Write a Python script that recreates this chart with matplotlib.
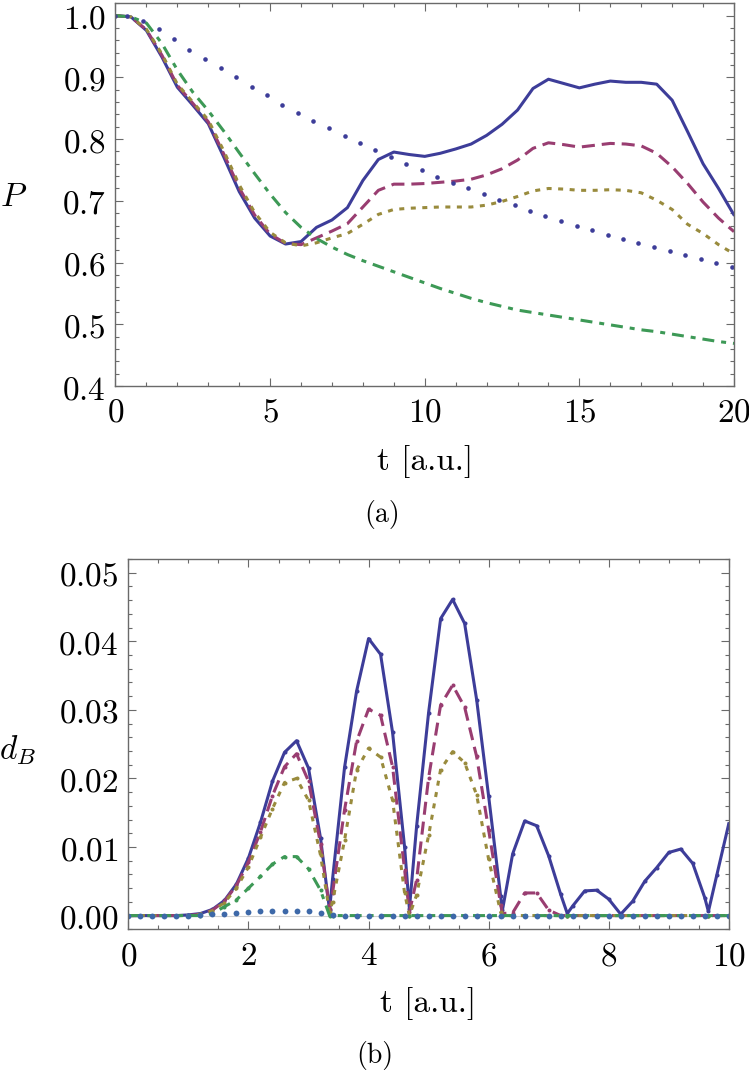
import numpy as np
import matplotlib
matplotlib.use("Agg")
import matplotlib.pyplot as plt
from matplotlib.ticker import MultipleLocator, FormatStrFormatter

plt.rcParams['mathtext.fontset'] = 'cm'
plt.rcParams['lines.scale_dashes'] = False
plt.rcParams['axes.unicode_minus'] = False

# --- colores estilo Mathematica ---
c_blue = "#3D3D99"
c_mag = "#993D71"
c_olive = "#998B3D"
c_green = "#3D9956"
c_steel = "#3D68A8"
frame_col = "#6a6a6a"

# === (a) P(t) ===
t_a = [0, 0.5, 1.0, 1.5, 2.0, 2.5, 3.0, 3.5, 4.0, 4.5, 5.0, 5.5, 6.0, 6.5, 7.0,
       7.5, 8.0, 8.5, 9.0, 9.5, 10.0, 10.5, 11.0, 11.5, 12.0, 12.5, 13.0, 13.5,
       14.0, 14.5, 15.0, 15.5, 16.0, 16.5, 17.0, 17.5, 18.0, 18.5, 19.0, 19.5, 20.0]

P_solid = [1.000, 0.998, 0.976, 0.933, 0.884, 0.855, 0.825, 0.771, 0.715, 0.672,
           0.643, 0.630, 0.634, 0.657, 0.669, 0.689, 0.733, 0.767, 0.779, 0.775,
           0.772, 0.777, 0.784, 0.792, 0.806, 0.824, 0.847, 0.882, 0.897, 0.890,
           0.883, 0.889, 0.894, 0.892, 0.892, 0.889, 0.863, 0.812, 0.760, 0.720, 0.677]

P_dash = [1.000, 0.998, 0.977, 0.936, 0.887, 0.858, 0.828, 0.776, 0.721, 0.677,
          0.646, 0.631, 0.629, 0.640, 0.651, 0.663, 0.690, 0.717, 0.727, 0.727,
          0.728, 0.730, 0.732, 0.735, 0.742, 0.752, 0.766, 0.785, 0.794, 0.791,
          0.787, 0.790, 0.793, 0.792, 0.789, 0.777, 0.755, 0.728, 0.698, 0.672, 0.650]

P_dot = [1.000, 0.998, 0.978, 0.938, 0.889, 0.860, 0.831, 0.781, 0.726, 0.681,
         0.649, 0.632, 0.627, 0.632, 0.640, 0.647, 0.662, 0.678, 0.686, 0.688,
         0.689, 0.690, 0.690, 0.690, 0.693, 0.699, 0.707, 0.716, 0.720, 0.719,
         0.717, 0.717, 0.718, 0.717, 0.713, 0.701, 0.686, 0.662, 0.647, 0.629, 0.614]

P_dashdot = [1.000, 0.998, 0.988, 0.955, 0.912, 0.876, 0.846, 0.813, 0.778, 0.744,
             0.711, 0.681, 0.657, 0.639, 0.625, 0.613, 0.603, 0.594, 0.585, 0.576,
             0.567, 0.558, 0.550, 0.542, 0.535, 0.529, 0.523, 0.519, 0.515, 0.511,
             0.507, 0.503, 0.499, 0.495, 0.491, 0.488, 0.484, 0.480, 0.476, 0.472, 0.469]

# curva punteada (puntos gruesos)
t_pts = [0.0, 0.38, 0.89, 1.40, 1.89, 2.39, 2.90, 3.40, 3.90, 4.40, 4.90, 5.40,
         5.90, 6.40, 6.90, 7.41, 7.91, 8.40, 8.90, 9.40, 9.90, 10.41, 10.91,
         11.40, 11.91, 12.41, 12.91, 13.41, 13.90, 14.41, 14.92, 15.42, 15.91,
         16.42, 16.91, 17.41, 17.92, 18.41, 18.92, 19.42, 19.92]
P_pts = [1.000, 1.000, 0.992, 0.978, 0.962, 0.945, 0.930, 0.915, 0.900, 0.885,
         0.871, 0.856, 0.843, 0.830, 0.818, 0.805, 0.793, 0.782, 0.771, 0.760,
         0.750, 0.739, 0.729, 0.720, 0.711, 0.701, 0.693, 0.684, 0.676, 0.668,
         0.660, 0.653, 0.645, 0.638, 0.631, 0.625, 0.618, 0.612, 0.605, 0.599, 0.593]

# === (b) d_B(t) ===
t_grid = [round(0.2 * i, 1) for i in range(51)]
t_b = sorted(t_grid + [3.35, 4.68, 6.23, 7.31, 9.66])

d_solid = [0, 0, 0, 0, 0, 0.0001, 0.0003, 0.0009, 0.0022, 0.0046,
           0.0084, 0.0136, 0.0196, 0.0238, 0.0255, 0.0215, 0.0113, 0.0008, 0.0053, 0.0216,
           0.0327, 0.0404, 0.0381, 0.0267, 0.0100, 0.0010, 0.0130, 0.0296, 0.0433, 0.0461,
           0.0426, 0.0315, 0.0174, 0.0028, 0.0008, 0.0090, 0.0138, 0.0131, 0.0087, 0.0031,
           0.0003, 0.0014, 0.0036, 0.0037, 0.0024, 0.0002, 0.0021, 0.0050, 0.0070, 0.0092,
           0.0097, 0.0076, 0.0026, 0.0006, 0.0059, 0.0134]

d_dash = [0, 0, 0, 0, 0, 0, 0.0002, 0.0008, 0.0021, 0.0044,
          0.0078, 0.0122, 0.0175, 0.0217, 0.0236, 0.0196, 0.0105, 0.0010, 0.0033, 0.0154,
          0.0254, 0.0301, 0.0292, 0.0217, 0.0067, 0.0005, 0.0052, 0.0201, 0.0307, 0.0336,
          0.0304, 0.0232, 0.0125, 0.0016, 0.0003, 0.0004, 0.0033, 0.0033, 0.0008, 0,
          0, 0, 0, 0, 0, 0, 0, 0, 0, 0,
          0, 0, 0, 0, 0, 0]

d_dot = [0, 0, 0, 0, 0, 0, 0.0002, 0.0007, 0.0019, 0.0040,
         0.0071, 0.0114, 0.0156, 0.0194, 0.0200, 0.0168, 0.0088, 0.0005, 0.0020, 0.0110,
         0.0212, 0.0244, 0.0231, 0.0168, 0.0033, 0, 0.0030, 0.0117, 0.0213, 0.0239,
         0.0223, 0.0176, 0.0082, 0.0005, 0, 0, 0, 0, 0, 0,
         0, 0, 0, 0, 0, 0, 0, 0, 0, 0,
         0, 0, 0, 0, 0, 0]

d_dashdot = [0, 0, 0, 0, 0, 0, 0, 0.0003, 0.0013, 0.0023,
             0.0040, 0.0057, 0.0075, 0.0086, 0.0086, 0.0068, 0.0037, 0, 0, 0,
             0, 0, 0, 0, 0, 0, 0, 0, 0, 0,
             0, 0, 0, 0, 0, 0, 0, 0, 0, 0,
             0, 0, 0, 0, 0, 0, 0, 0, 0, 0,
             0, 0, 0, 0, 0, 0]

d_pts = [0, 0, 0, 0, 0, 0, 0.0001, 0.0002, 0.0003, 0.0004,
         0.0005, 0.0006, 0.00064, 0.00064, 0.00064, 0.0006, 0.00044, 0.0001, 0, 0,
         0, 0, 0, 0, 0, 0, 0, 0, 0, 0,
         0, 0, 0, 0, 0, 0, 0, 0, 0, 0,
         0, 0, 0, 0, 0, 0, 0, 0, 0, 0, 0]

# estilos de linea (en puntos)
dash_long = (0, (9.4, 5.0))
dash_short = (0, (3.6, 4.7))
dash_dot = (0, (8.6, 5.0, 3.6, 5.0))
lw = 2.2

fig = plt.figure(figsize=(7.49, 10.72), dpi=100)
W, H = 749.0, 1072.0


def style_axes(ax):
    for s in ax.spines.values():
        s.set_color(frame_col)
        s.set_linewidth(1.0)
    ax.tick_params(which='both', direction='in', top=True, right=True,
                   color=frame_col, width=0.8, labelsize=24, pad=7)
    ax.tick_params(which='major', length=5.5)
    ax.tick_params(which='minor', length=3.0)


# --- panel (a) ---
ax1 = fig.add_axes([115.5 / W, 1 - 386 / H, (734 - 115.5) / W, (386 - 3.3) / H])
ax1.plot(t_a, P_solid, color=c_blue, lw=lw, solid_capstyle='round')
ax1.plot(t_a, P_dash, color=c_mag, lw=lw, linestyle=dash_long)
ax1.plot(t_a, P_dot, color=c_olive, lw=lw, linestyle=dash_short)
ax1.plot(t_a, P_dashdot, color=c_green, lw=lw, linestyle=dash_dot)
ax1.plot(t_pts, P_pts, linestyle='none', marker='o', ms=3.3, color=c_blue, mec='none')
ax1.set_xlim(0, 20)
ax1.set_ylim(0.4, 1.02)
ax1.xaxis.set_major_locator(MultipleLocator(5))
ax1.xaxis.set_minor_locator(MultipleLocator(1))
ax1.yaxis.set_major_locator(MultipleLocator(0.1))
ax1.yaxis.set_minor_locator(MultipleLocator(0.02))
ax1.xaxis.set_major_formatter(FormatStrFormatter('$%d$'))
ax1.yaxis.set_major_formatter(FormatStrFormatter('$%.1f$'))
style_axes(ax1)

# --- panel (b) ---
ax2 = fig.add_axes([128.4 / W, 1 - 929.3 / H, (728.8 - 128.4) / W, (929.3 - 559) / H])
ax2.axhline(0, color='#d0d0d0', lw=0.8, zorder=1)
mk = dict(marker='o', ms=2.9, mec='none')
ax2.plot(t_b, d_solid, color=c_blue, lw=lw, **mk)
ax2.plot(t_b, d_dash, color=c_mag, lw=lw, linestyle=dash_long, **mk)
ax2.plot(t_b, d_dot, color=c_olive, lw=lw, linestyle=dash_short, **mk)
ax2.plot(t_b, d_dashdot, color=c_green, lw=lw, linestyle=dash_dot, **mk)
ax2.plot(t_grid, d_pts, linestyle='none', marker='o', ms=4.2, color=c_steel, mec='none')
ax2.set_xlim(0, 10)
ax2.set_ylim(-0.002, 0.052)
ax2.xaxis.set_major_locator(MultipleLocator(2))
ax2.xaxis.set_minor_locator(MultipleLocator(0.5))
ax2.yaxis.set_major_locator(MultipleLocator(0.01))
ax2.yaxis.set_minor_locator(MultipleLocator(0.002))
ax2.xaxis.set_major_formatter(FormatStrFormatter('$%d$'))
ax2.yaxis.set_major_formatter(FormatStrFormatter('$%.2f$'))
style_axes(ax2)

# --- textos ---
cm = dict(family='cmr10', ha='center', va='center')
fig.text(14 / W, 1 - 197 / H, r'$P$', fontsize=24, ha='center', va='center')
fig.text(425 / W, 1 - 462 / H, 't [a.u.]', fontsize=24, **cm)
fig.text(382 / W, 1 - 514 / H, '(a)', fontsize=20, **cm)
fig.text(17 / W, 1 - 750 / H, r'$d_B$', fontsize=24, ha='center', va='center')
fig.text(428 / W, 1 - 1004 / H, 't [a.u.]', fontsize=24, **cm)
fig.text(375 / W, 1 - 1055 / H, '(b)', fontsize=20, **cm)

fig.savefig("out.png", dpi=100)
